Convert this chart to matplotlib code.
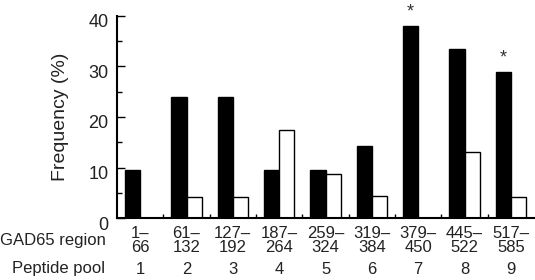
import numpy as np
import matplotlib.pyplot as plt
import matplotlib.transforms as mtransforms

plt.rcParams['font.family'] = ['Liberation Sans', 'DejaVu Sans']

pools = ['1', '2', '3', '4', '5', '6', '7', '8', '9']
regions = ['1\u2013\n66', '61\u2013\n132', '127\u2013\n192', '187\u2013\n264', '259\u2013\n324',
           '319\u2013\n384', '379\u2013\n450', '445\u2013\n522', '517\u2013\n585']
black_vals = [9.5, 24, 24, 9.5, 9.5, 14.3, 38, 33.5, 28.9]
white_vals = [0, 4.2, 4.2, 17.4, 8.7, 4.3, 0, 13, 4.2]
signif = [7, 9]

H = 280.0
fig = plt.figure(figsize=(5.35, 2.8), dpi=100)
ax = fig.add_axes([0.2187, 0.2214, 0.7795, 0.7215])

x = np.arange(1, 10)
w = 0.33
ax.bar(x - w / 2, black_vals, w, color='black', edgecolor='black', linewidth=1)
ax.bar(x + w / 2, white_vals, w, color='white', edgecolor='black', linewidth=1)

for p in signif:
    i = p - 1
    ax.text(x[i] - w / 2, black_vals[i] + 1.2, '*', ha='center', va='bottom',
            fontsize=13, color='#333', clip_on=False)

ax.set_xlim(0.5, 9.5)
ax.set_ylim(0, 40)
ax.spines['top'].set_visible(False)
ax.spines['right'].set_visible(False)
ax.spines['left'].set_linewidth(1.5)
ax.spines['bottom'].set_linewidth(1.5)

ax.set_yticks([0, 10, 20, 30, 40])
ax.set_yticks([5, 15, 25, 35], minor=True)
ax.tick_params(axis='y', which='major', direction='in', length=6, width=1,
               labelsize=13, labelcolor='#222', pad=6)
ax.tick_params(axis='y', which='minor', direction='in', length=3.5, width=1)
# tick labels sit a little below their ticks in the original
shift = mtransforms.ScaledTranslation(0, -5 / 100, fig.dpi_scale_trans)
for lab in ax.get_yticklabels():
    lab.set_transform(lab.get_transform() + shift)

ax.set_xticks(np.arange(1.5, 9.5, 1), minor=True)
ax.set_xticks([])
ax.tick_params(axis='x', which='minor', direction='in', length=3, width=1)

ax.set_ylabel('Frequency (%)', fontsize=14, color='#222', labelpad=14)

trans = mtransforms.blended_transform_factory(ax.transData, fig.transFigure)
for xi, reg, p in zip(x, regions, pools):
    top, bot = reg.split('\n')
    ax.text(xi, 1 - 233 / H, top, transform=trans, ha='center', va='center',
            fontsize=12, color='#222')
    ax.text(xi, 1 - 247 / H, bot, transform=trans, ha='center', va='center',
            fontsize=12, color='#222')
    ax.text(xi, 1 - 269 / H, p, transform=trans, ha='center', va='center',
            fontsize=12, color='#222')

fig.text(0.197, 1 - 240 / H, 'GAD65 region', ha='right', va='center',
         fontsize=12, color='#222')
fig.text(0.197, 1 - 269 / H, 'Peptide pool', ha='right', va='center',
         fontsize=12, color='#222')

fig.savefig('out.png', dpi=100)
